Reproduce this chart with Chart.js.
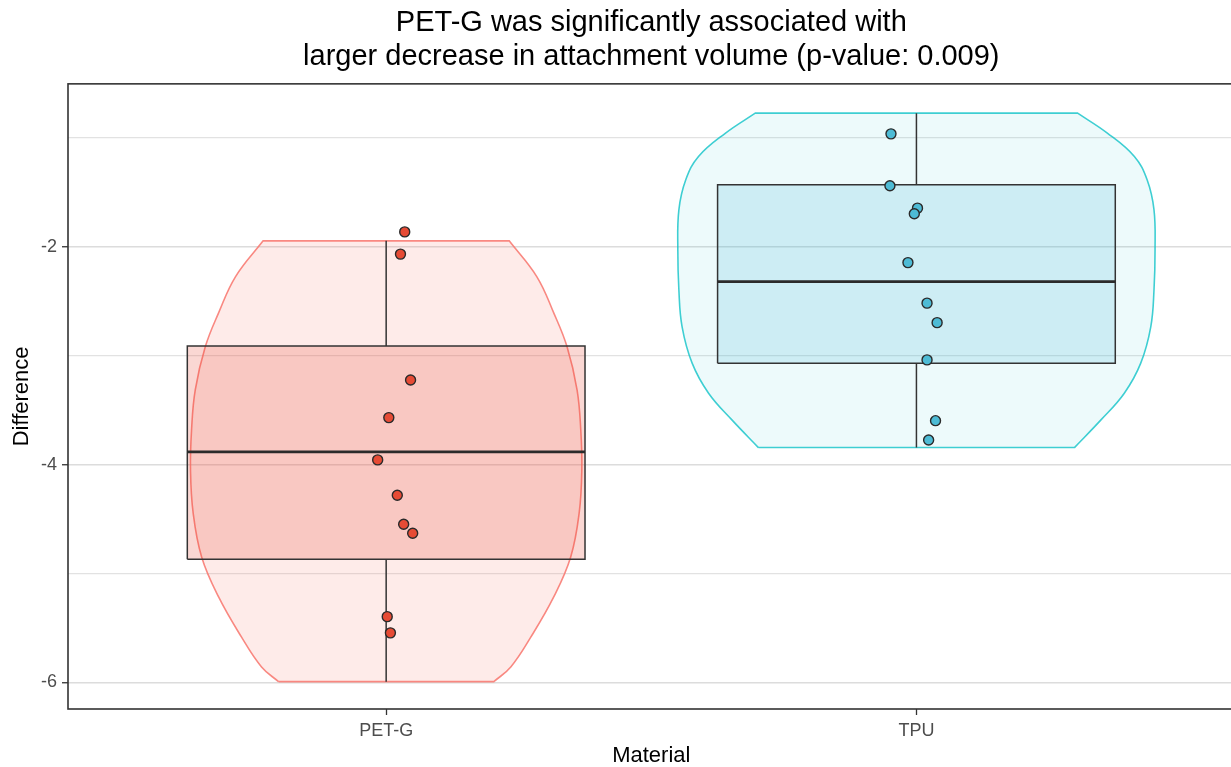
<!DOCTYPE html>
<html>
<head>
<meta charset="utf-8">
<script src="https://cdn.jsdelivr.net/npm/chart.js@4/dist/chart.umd.min.js"></script>
<style>
  html, body { margin: 0; padding: 0; background: #ffffff; overflow: hidden; }
  #wrap { width: 1241px; height: 767px; }
</style>
</head>
<body>
<div id="wrap"><canvas id="c" width="1241" height="767"></canvas></div>
<script>
// ---------------- DATA ----------------
const categories = ['PET-G', 'TPU'];
const titleLines = ['PET-G was significantly associated with', 'larger decrease in attachment volume (p-value: 0.009)'];
const xTitle = 'Material';
const yTitle = 'Difference';

// jittered observations (value, horizontal jitter in category units)
const petgValues = [-1.863, -2.067, -3.222, -3.568, -3.956, -4.281, -4.547, -4.630, -5.395, -5.544];
const petgJitter = [0.035, 0.027, 0.046, 0.005, -0.016, 0.021, 0.033, 0.050, 0.002, 0.008];
const tpuValues  = [-0.963, -1.440, -1.645, -1.697, -2.145, -2.517, -2.696, -3.038, -3.596, -3.773];
const tpuJitter  = [-0.048, -0.050, 0.002, -0.004, -0.016, 0.020, 0.039, 0.020, 0.036, 0.023];

// box statistics: [lower whisker, Q1, median, Q3, upper whisker]
const petgBox = [-5.992, -4.868, -3.883, -2.910, -1.945];
const tpuBox  = [-3.843, -3.068, -2.319, -1.431, -0.773];

// violin density outline (value levels, half-width in category units)
const petgViolinY  = [-1.945, -2.273, -2.607, -2.916, -3.314, -3.681, -4.049, -4.443, -4.847, -5.214, -5.581, -5.857, -5.992];
const petgViolinHW = [0.232, 0.284, 0.316, 0.341, 0.360, 0.367, 0.369, 0.364, 0.348, 0.316, 0.273, 0.235, 0.203];
const tpuViolinY   = [-0.773, -0.956, -1.171, -1.385, -1.661, -2.028, -2.396, -2.732, -3.068, -3.344, -3.589, -3.843];
const tpuViolinHW  = [0.304, 0.360, 0.411, 0.435, 0.448, 0.450, 0.448, 0.442, 0.423, 0.392, 0.348, 0.298];

const yTickValues = [-6, -5, -4, -3, -2, -1];
const yLabelled = [-2, -4, -6];

// ---------------- BUILDERS ----------------
const BOX_HALF = 0.375;

function violinOutline(c, ys, hws) {
  const n = ys.length;
  const pts = [];
  for (let i = n - 1; i >= 0; i--) pts.push({x: c - hws[i], y: ys[i]});
  pts.push({x: c - hws[0], y: ys[0]});             // corner duplicate
  pts.push({x: c + hws[0], y: ys[0]});
  for (let i = 0; i < n; i++) pts.push({x: c + hws[i], y: ys[i]});
  pts.push({x: c + hws[n - 1], y: ys[n - 1]});     // corner duplicate
  pts.push({x: c - hws[n - 1], y: ys[n - 1]});
  return pts;
}
function boxRect(c, b) {
  return [
    {x: c - BOX_HALF, y: b[1]}, {x: c - BOX_HALF, y: b[3]},
    {x: c + BOX_HALF, y: b[3]}, {x: c + BOX_HALF, y: b[1]},
    {x: c - BOX_HALF, y: b[1]}
  ];
}
function pointsOf(c, vals, jit) {
  return vals.map((v, i) => ({x: c + jit[i], y: v}));
}

const groups = [
  {c: 1, vals: petgValues, jit: petgJitter, box: petgBox, vy: petgViolinY, vhw: petgViolinHW,
   vFill: 'rgba(248,118,109,0.15)', vLine: 'rgba(248,118,109,0.85)',
   bFill: 'rgba(230,75,53,0.22)', pFill: '#E64B35'},
  {c: 2, vals: tpuValues, jit: tpuJitter, box: tpuBox, vy: tpuViolinY, vhw: tpuViolinHW,
   vFill: 'rgba(0,191,196,0.07)', vLine: 'rgba(0,191,196,0.75)',
   bFill: 'rgba(77,187,213,0.2)', pFill: '#4DBBD5'}
];

const datasets = [];
groups.forEach(g => {
  datasets.push({
    type: 'line', data: violinOutline(g.c, g.vy, g.vhw), order: 5,
    backgroundColor: g.vFill, borderColor: g.vLine, borderWidth: 1.6,
    fill: 'shape', tension: 0.4, pointRadius: 0, showLine: true
  });
  datasets.push({
    type: 'line', data: boxRect(g.c, g.box), order: 4,
    backgroundColor: g.bFill, borderColor: '#333333', borderWidth: 1.5,
    fill: 'shape', tension: 0, pointRadius: 0, showLine: true
  });
  datasets.push({
    type: 'line', data: [{x: g.c, y: g.box[3]}, {x: g.c, y: g.box[4]}], order: 3,
    borderColor: '#333333', borderWidth: 1.5, fill: false, tension: 0, pointRadius: 0, showLine: true
  });
  datasets.push({
    type: 'line', data: [{x: g.c, y: g.box[1]}, {x: g.c, y: g.box[0]}], order: 3,
    borderColor: '#333333', borderWidth: 1.5, fill: false, tension: 0, pointRadius: 0, showLine: true
  });
  datasets.push({
    type: 'line', data: [{x: g.c - BOX_HALF, y: g.box[2]}, {x: g.c + BOX_HALF, y: g.box[2]}], order: 2,
    borderColor: '#2b2b2b', borderWidth: 2.8, fill: false, tension: 0, pointRadius: 0, showLine: true
  });
  datasets.push({
    type: 'scatter', data: pointsOf(g.c, g.vals, g.jit), order: 1,
    backgroundColor: g.pFill, borderColor: '#2a2a2a', borderWidth: 1.4,
    pointRadius: 5, pointHoverRadius: 5, showLine: false
  });
});

const panelBorder = {
  id: 'panelBorder',
  afterDatasetsDraw(chart) {
    const a = chart.chartArea, ctx = chart.ctx;
    ctx.save();
    ctx.strokeStyle = '#333333';
    ctx.lineWidth = 1.6;
    ctx.strokeRect(a.left, a.top, a.right - a.left, a.bottom - a.top);
    ctx.restore();
  }
};

Chart.defaults.font.family = "'Liberation Sans', Arial, sans-serif";

new Chart(document.getElementById('c'), {
  type: 'scatter',
  data: { datasets },
  options: {
    responsive: false,
    animation: false,
    devicePixelRatio: 1,
    events: [],
    layout: { padding: { left: 0, right: 5, top: 0, bottom: 0 } },
    plugins: {
      legend: { display: false },
      tooltip: { enabled: false },
      title: {
        display: true, text: titleLines, fullSize: false, color: '#000000',
        font: { size: 29, weight: 'normal', lineHeight: 1.17 },
        padding: { top: 6, bottom: 10 }
      }
    },
    scales: {
      x: {
        type: 'linear', min: 0.4, max: 2.6,
        afterBuildTicks: s => { s.ticks = categories.map((c, i) => ({ value: i + 1 })); },
        afterFit: s => { s.height = 58; },
        ticks: {
          callback: v => categories[Math.round(v) - 1] || '',
          color: '#4D4D4D', font: { size: 18 }, padding: 5, maxRotation: 0, autoSkip: false
        },
        grid: { drawOnChartArea: false, drawTicks: true, tickLength: 6, tickColor: '#333333', tickWidth: 1.3 },
        border: { display: false },
        title: { display: true, text: xTitle, color: '#000000', font: { size: 22, lineHeight: 1 }, padding: { top: 0, bottom: 0 } }
      },
      y: {
        type: 'linear', min: -6.243, max: -0.504,
        afterBuildTicks: s => { s.ticks = yTickValues.map(v => ({ value: v })); },
        afterFit: s => { s.width = 68; },
        ticks: {
          callback: v => (yLabelled.includes(v) ? String(v) : ''),
          color: '#4D4D4D', font: { size: 18 }, padding: 5, autoSkip: false
        },
        grid: {
          color: c => (yLabelled.includes(c.tick && c.tick.value) ? '#DCDCDC' : '#E2E2E2'),
          lineWidth: c => (yLabelled.includes(c.tick && c.tick.value) ? 1.5 : 1.2),
          tickColor: c => (yLabelled.includes(c.tick && c.tick.value) ? '#333333' : 'rgba(0,0,0,0)'),
          tickWidth: 1.3, tickLength: 6, drawTicks: true
        },
        border: { display: false },
        title: { display: true, text: yTitle, color: '#000000', font: { size: 22, lineHeight: 1 }, padding: { top: 11, bottom: 0 } }
      }
    }
  },
  plugins: [panelBorder]
});
</script>
</body>
</html>
